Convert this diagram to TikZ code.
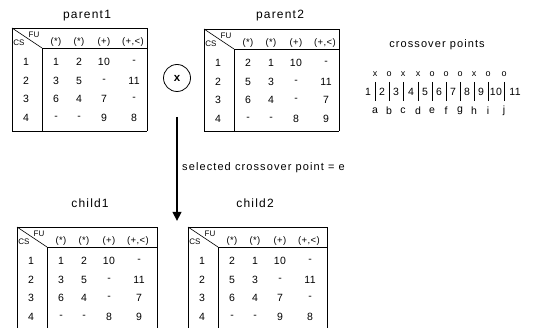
\documentclass[tikz,border=0pt]{standalone}
\usepackage{fontspec}
\setmainfont{Liberation Sans}
\newfontfamily\titlefont[LetterSpace=10]{Liberation Sans}
\newfontfamily\cellfont[LetterSpace=4]{Liberation Sans}
\usetikzlibrary{arrows.meta}

\tikzset{
  tbl/.style={line width=0.8pt},
  ttl/.style={font=\titlefont\fontsize{12}{14}\selectfont, inner sep=0pt},
  lbl/.style={font=\titlefont\fontsize{11}{13}\selectfont, inner sep=0pt},
  cell/.style={font=\cellfont\fontsize{10.5}{12}\selectfont, inner sep=0pt},
  hdr/.style={font=\cellfont\fontsize{9.5}{11}\selectfont, inner sep=0pt},
  corner/.style={font=\fontsize{8}{9}\selectfont, inner sep=0pt},
  xo/.style={font=\fontsize{9}{10}\selectfont, inner sep=0pt},
  bar/.style={line width=1pt},
}

% #1 name, #2 left, #3 top, #4 width, #5 height, #6 closed bottom (1/0), #7 rows
\newcommand{\gatable}[7]{%
  \begin{scope}[shift={(#2,#3)}]
    \draw[tbl] (0,#5) -- (0,0) -- (#4,0) -- (#4,#5);
    \ifnum#6=1 \draw[tbl] (0,#5) -- (#4,#5);\fi
    \draw[line width=0.6pt] (0,0) -- (30,20);
    \draw[tbl] (30,20) -- (#4,20);
    \draw[tbl] (30,20) -- (30,#5);
    \node[corner] (#1-fu) at (22,7) {FU};
    \node[corner] (#1-cs) at (7,15) {CS};
    \node[hdr] (#1-h1) at (44,14) {(*)};
    \node[hdr] (#1-h2) at (67,14) {(*)};
    \node[hdr] (#1-h3) at (92,14) {(+)};
    \node[hdr] (#1-h4) at (121,14) {(+,<)};
    \foreach \r/\a/\b/\c/\d [count=\i] in {#7} {
      \pgfmathsetmacro\yy{15.5+18.5*\i}
      \node[cell] (#1-r\i)  at (14,\yy) {\r};
      \node[cell] (#1-\i a) at (44,\yy) {\a};
      \node[cell] (#1-\i b) at (67,\yy) {\b};
      \node[cell] (#1-\i c) at (92,\yy) {\c};
      \node[cell] (#1-\i d) at (122,\yy) {\d};
    }
  \end{scope}}

\begin{document}
\begin{tikzpicture}[x=1pt,y=-1pt]
  \useasboundingbox (0,0) rectangle (534,328);

  % parents
  \node[ttl] (p1title) at (87,16) {parent1};
  \gatable{p1}{12}{28}{135}{103}{1}{1/1/2/10/-, 2/3/5/-/11, 3/6/4/7/-, 4/-/-/9/8}
  \node[ttl] (p2title) at (280,16) {parent2};
  \gatable{p2}{204}{29}{135}{102}{1}{1/2/1/10/-, 2/5/3/-/11, 3/6/4/-/7, 4/-/-/8/9}

  % crossover operator
  \node[draw, circle, line width=0.8pt, minimum size=27pt, inner sep=0pt,
        font=\bfseries\fontsize{11.5}{13}\selectfont] (cross) at (177,78) {x};

  % crossover points
  \node[lbl] (cptitle) at (437,45) {crossover points};
  \foreach \s/\l/\x in {x/a/375, o/b/389, x/c/403, x/d/418, o/e/432,
                        o/f/446, o/g/460, x/h/474, o/i/488, o/j/504} {
    \node[xo] (s-\l) at (\x,74) {\s};
    \draw[bar] (\x,82) -- (\x,101);
    \node[cell] (l-\l) at (\x,111) {\l};
  }
  \foreach \n/\x in {1/368, 2/382, 3/396, 4/411, 5/425, 6/439,
                     7/453, 8/467, 9/481, 10/496, 11/515} {
    \node[cell] (n-\n) at (\x,92) {\n};
  }

  % selection arrow
  \coordinate (arrtop) at (177,117);
  \coordinate (arrtip) at (177,221);
  \draw[line width=2.8pt, -{Triangle[length=9pt,width=8.5pt]}] (arrtop) -- (arrtip);
  \node[lbl, anchor=west] (sel) at (182,168) {selected crossover point = e};

  % children
  \node[ttl] (c1title) at (90,203) {child1};
  \gatable{c1}{17}{227}{140}{101}{0}{1/1/2/10/-, 2/3/5/-/11, 3/6/4/-/7, 4/-/-/8/9}
  \node[ttl] (c2title) at (255,203) {child2};
  \gatable{c2}{188}{227}{139}{101}{0}{1/2/1/10/-, 2/5/3/-/11, 3/6/4/7/-, 4/-/-/9/8}
\end{tikzpicture}
\end{document}
